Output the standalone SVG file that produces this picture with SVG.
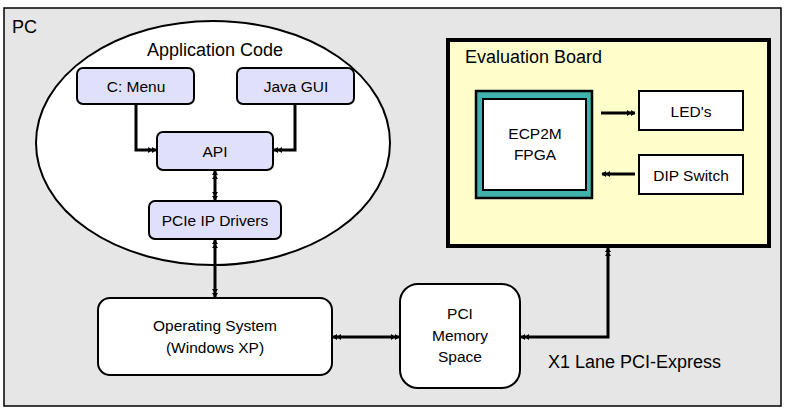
<svg xmlns="http://www.w3.org/2000/svg" width="785" height="408" viewBox="0 0 785 408">
  <style>
    text { font-family: "Liberation Sans", Arial, sans-serif; fill: #000; }
    .lbl { font-size: 15.5px; text-anchor: middle; }
    .big { font-size: 18px; }
    .lav { fill: #e0e0fa; stroke: #000; stroke-width: 2; }
    .wbox { fill: #ffffff; stroke: #000; stroke-width: 2; }
    .conn { fill: none; stroke: #000; stroke-width: 3; }
  </style>
  <defs>
    <marker id="dbl" markerUnits="userSpaceOnUse" markerWidth="9" markerHeight="7" viewBox="0 0 9 7" refX="8" refY="3.5" orient="auto-start-reverse">
      <path d="M0,0.5 L4.5,3.5 L0,6.5 Z M4,0.5 L8.5,3.5 L4,6.5 Z" fill="#000"/>
    </marker>
  </defs>

  <g id="pc">
    <rect x="4" y="8" width="777" height="398" fill="#e6e6e6" stroke="#000" stroke-width="1.5"/>
    <text x="12" y="33" class="big">PC</text>
  </g>

  <g id="app-code">
    <ellipse cx="213" cy="143" rx="177" ry="122" fill="#fff" stroke="#000" stroke-width="2"/>
    <text x="215" y="56" class="big" text-anchor="middle">Application Code</text>
  </g>

  <g id="c-menu">
    <rect x="77" y="68" width="117" height="36" rx="6" class="lav"/>
    <text x="136" y="92" class="lbl">C: Menu</text>
  </g>
  <g id="java-gui">
    <rect x="237" y="68" width="117" height="36" rx="6" class="lav"/>
    <text x="296" y="92" class="lbl">Java GUI</text>
  </g>
  <g id="api">
    <rect x="157" y="132" width="116" height="38" rx="6" class="lav"/>
    <text x="215" y="157" class="lbl">API</text>
  </g>
  <g id="pcie-drivers">
    <rect x="149" y="201" width="132" height="38" rx="6" class="lav"/>
    <text x="215" y="226" class="lbl">PCIe IP Drivers</text>
  </g>
  <g id="os">
    <rect x="98" y="298" width="234" height="77" rx="12" class="wbox"/>
    <text x="215" y="331" class="lbl">Operating System</text>
    <text x="215" y="353" class="lbl">(Windows XP)</text>
  </g>
  <g id="pci-memory">
    <rect x="400" y="284" width="120" height="104" rx="18" class="wbox"/>
    <text x="460" y="319" class="lbl">PCI</text>
    <text x="460" y="341" class="lbl">Memory</text>
    <text x="460" y="362" class="lbl">Space</text>
  </g>
  <g id="x1-label">
    <text x="548" y="368" class="big">X1 Lane PCI-Express</text>
  </g>

  <g id="eval-board">
    <rect x="448" y="40" width="321" height="206" fill="#ffffcc" stroke="#000" stroke-width="4"/>
    <text x="465" y="63" class="big">Evaluation Board</text>
  </g>
  <g id="fpga">
    <rect x="476" y="91" width="116" height="107" fill="#3fb2ae" stroke="#000" stroke-width="2.5"/>
    <rect x="483" y="99" width="103" height="91" fill="#fff" stroke="#000" stroke-width="2"/>
    <text x="535" y="139" class="lbl">ECP2M</text>
    <text x="535" y="160" class="lbl">FPGA</text>
  </g>
  <g id="leds">
    <rect x="639" y="91" width="104" height="39" class="wbox"/>
    <text x="691" y="117" class="lbl">LED's</text>
  </g>
  <g id="dip-switch">
    <rect x="639" y="155" width="104" height="39" class="wbox"/>
    <text x="691" y="181" class="lbl">DIP Switch</text>
  </g>

  <g id="connectors">
    <path class="conn" d="M136,104 V150 H156" marker-end="url(#dbl)"/>
    <path class="conn" d="M295,104 V150 H274" marker-end="url(#dbl)"/>
    <path class="conn" d="M215,171 V200" marker-start="url(#dbl)" marker-end="url(#dbl)"/>
    <path class="conn" d="M215,240 V297" marker-start="url(#dbl)" marker-end="url(#dbl)"/>
    <path class="conn" d="M333,337 H399" marker-start="url(#dbl)" marker-end="url(#dbl)"/>
    <path class="conn" d="M608,248 V337 H521" marker-start="url(#dbl)" marker-end="url(#dbl)"/>
    <path class="conn" d="M601,113 H635" marker-end="url(#dbl)"/>
    <path class="conn" d="M635,174 H602" marker-end="url(#dbl)"/>
  </g>
</svg>
